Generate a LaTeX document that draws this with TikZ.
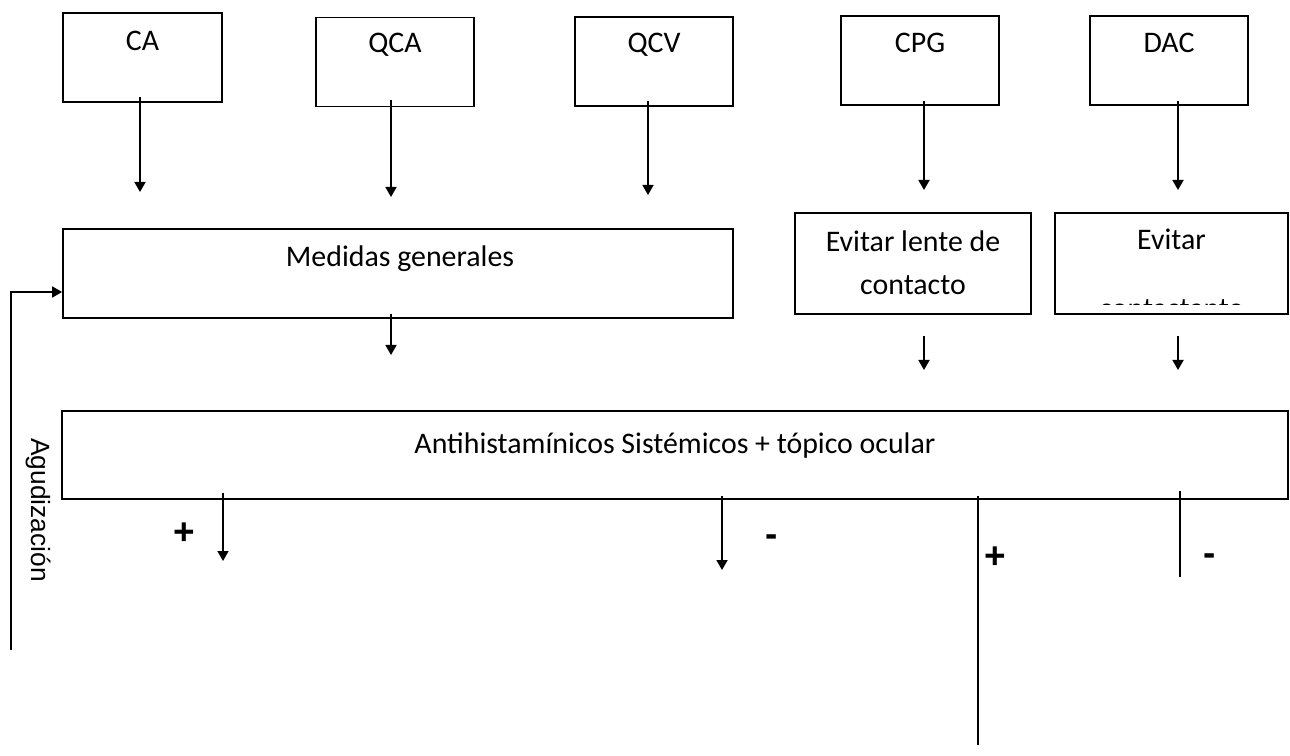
\documentclass[tikz,border=0pt]{standalone}
\usepackage{fontspec}
\setmainfont{Carlito}
\newfontfamily\arialfont{Liberation Sans}
\usepackage{tikz}
\usetikzlibrary{positioning,arrows.meta}

\begin{document}
\begin{tikzpicture}[x=0.2mm,y=-0.2mm,>={Triangle[length=2mm,width=2.2mm]},
  box/.style={draw,line width=1pt,minimum width=#1,minimum height=17.8mm,inner sep=0pt},
  txt/.style={font=\fontsize{17}{24.5}\selectfont,inner sep=0pt,anchor=base},
  sign/.style={font=\arialfont\bfseries\fontsize{21}{21}\selectfont,inner sep=0pt},
  flow/.style={->,line width=1pt}]
\useasboundingbox (0,0) rectangle (1290,756);

% forms
\node[box=31.8mm] (ca) at (142.5,57.5) {};
\node[box=31.6mm] (qca) at (395,62) {};
\node[box=31.6mm] (qcv) at (654,61.5) {};
\node[box=31.6mm] (cpg) at (920,60.5) {};
\node[box=31.6mm] (dac) at (1169,60.5) {};
\node[txt] (ca-t) at (142.5,51) {CA};
\node[txt] (qca-t) at (395,53) {QCA};
\node[txt] (qcv-t) at (654,53) {QCV};
\node[txt] (cpg-t) at (920,53) {CPG};
\node[txt] (dac-t) at (1169,53) {DAC};

% measures
\node[box=134mm] (med) at (398,273.5) {};
\node[txt] (med-t) at (400,267) {Medidas generales};
\node[box=47.2mm,minimum height=20.2mm] (evl) at (913,263.5) {};
\node[txt,align=center,anchor=north] (evl-t) at (913,230) {Evitar lente de\\contacto};
\node[box=46.6mm,minimum height=20.2mm] (evd) at (1171.5,263.5) {};
\node[txt] (evd-t) at (1171.5,250) {Evitar};
\begin{scope}
\clip (1056,214) rectangle (1287,305);
\node[txt] (evd-t2) at (1171.5,319) {contactante};
\end{scope}

% treatment
\node[box=245.2mm,minimum height=17.6mm] (anti) at (675,455) {};
\node[txt] (anti-t) at (675,453) {Antihistamínicos Sistémicos + tópico ocular};

% free ends
\coordinate (ca-e) at (140,192);
\coordinate (qca-e) at (391,197);
\coordinate (qcv-e) at (648,195);
\coordinate (cpg-e) at (924,190);
\coordinate (dac-e) at (1178,190);
\coordinate (med-e) at (391,355);
\coordinate (evl-e) at (924,370);
\coordinate (evd-e) at (1178,370);
\coordinate (p1) at (223,561);
\coordinate (p2) at (722,570);
\coordinate (p3) at (978,745);
\coordinate (p4) at (1180,577);
\coordinate (agu-b) at (11,650);
\coordinate (agu-t) at (11,292);

\draw[flow] (ca.south -| ca-e) ++(0,-6) -- (ca-e);
\draw[flow] (qca.south -| qca-e) ++(0,-7) -- (qca-e);
\draw[flow] (qcv.south -| qcv-e) ++(0,-6) -- (qcv-e);
\draw[flow] (cpg.south -| cpg-e) ++(0,-5) -- (cpg-e);
\draw[flow] (dac.south -| dac-e) ++(0,-5) -- (dac-e);
\draw[flow] (med.south -| med-e) ++(0,-5) -- (med-e);
\draw[flow] (evl.south -| evl-e) ++(0,21) -- (evl-e);
\draw[flow] (evd.south -| evd-e) ++(0,21) -- (evd-e);

\draw[flow] (anti.south -| p1) ++(0,-7) -- (p1);
\draw[flow] (anti.south -| p2) ++(0,-4) -- (p2);
\draw[line width=1pt] (anti.south -| p3) ++(0,-4) -- (p3);
\draw[line width=1pt] (anti.south -| p4) ++(0,-9) -- (p4);

\node[sign] (s1) at (184,534) {+};
\node[sign] (s2) at (772,541) {-};
\node[sign] (s3) at (995,558) {+};
\node[sign] (s4) at (1210,560) {-};

% relapse
\draw[flow] (agu-b) -- (agu-t) -- (agu-t -| med.west);
\node[font=\arialfont\fontsize{15}{18}\selectfont,rotate=-90,inner sep=0pt] (agu) at (38,510) {Agudización};
\end{tikzpicture}
\end{document}
